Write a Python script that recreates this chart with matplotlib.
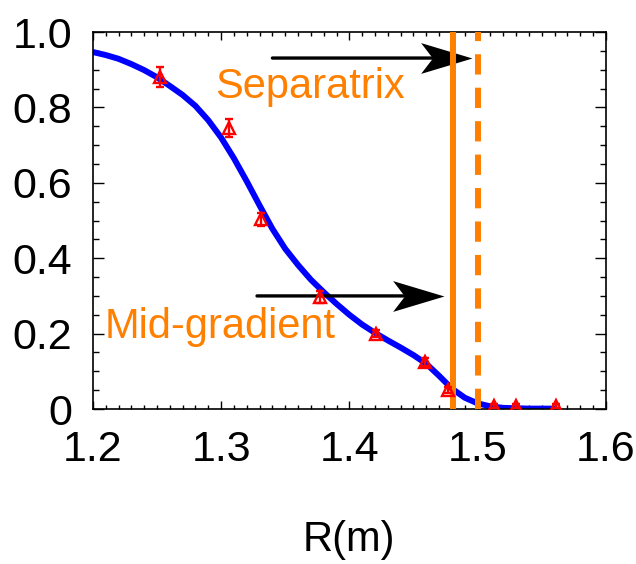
import matplotlib
matplotlib.use("Agg")
import matplotlib.pyplot as plt
from matplotlib.path import Path
from matplotlib.ticker import MultipleLocator

plt.rcParams['font.family'] = ['Liberation Sans', 'DejaVu Sans']

# fitted profile (blue curve)
curve_r = [1.20, 1.21, 1.22, 1.23, 1.24, 1.25, 1.26, 1.27, 1.28, 1.29,
           1.30, 1.31, 1.32, 1.33, 1.34, 1.35, 1.36, 1.37, 1.38, 1.39,
           1.40, 1.41, 1.42, 1.43, 1.44, 1.45, 1.46, 1.47, 1.48, 1.49,
           1.50, 1.51, 1.52, 1.53, 1.54, 1.55, 1.562]
curve_v = [0.947, 0.939, 0.929, 0.915, 0.899, 0.880, 0.857, 0.833, 0.804, 0.766,
           0.720, 0.665, 0.604, 0.540, 0.478, 0.425, 0.382, 0.343, 0.310, 0.279,
           0.250, 0.224, 0.202, 0.182, 0.163, 0.143, 0.120, 0.088, 0.054, 0.030,
           0.015, 0.007, 0.003, 0.002, 0.001, 0.001, 0.001]

# measured points (red triangles)
pts_r = [1.252, 1.306, 1.331, 1.377, 1.421, 1.459, 1.477, 1.513, 1.530, 1.561]
pts_v = [0.880, 0.745, 0.503, 0.297, 0.200, 0.125, 0.050, 0.008, 0.008, 0.008]
pts_err = [0.027, 0.024, 0.017, 0.015, 0.010, 0.010, 0.008, 0.005, 0.005, 0.005]

# vertical markers
separatrix_r = 1.500
midgrad_r = 1.481

# annotation arrows (start r, end r, level)
sep_arrow = (1.340, 1.496, 0.931)
mid_arrow = (1.328, 1.474, 0.300)

x_ticks = [1.2, 1.3, 1.4, 1.5, 1.6]
x_ticklabels = ["1.2", "1.3", "1.4", "1.5", "1.6"]
y_ticks = [0, 0.2, 0.4, 0.6, 0.8, 1.0]
y_ticklabels = ["0", "0.2", "0.4", "0.6", "0.8", "1.0"]

orange = "#FF8000"

# concave arrow-head shape (tip at origin, pointing right)
head = Path([(0, 0), (-1, 0.3), (-0.77, 0), (-1, -0.3), (0, 0)],
            [Path.MOVETO, Path.LINETO, Path.LINETO, Path.LINETO, Path.CLOSEPOLY])

fig = plt.figure(figsize=(6.36, 5.64), dpi=100)
ax = fig.add_axes([0.146, 0.2748, 0.8066, 0.6684])

ax.plot(curve_r, curve_v, color="#0000FF", lw=4.3, zorder=2,
        solid_joinstyle="round", solid_capstyle="butt")

for a in (sep_arrow, mid_arrow):
    ax.annotate("", xy=(a[1], a[2]), xytext=(a[0], a[2]),
                arrowprops=dict(arrowstyle="-", color="black", lw=2.4,
                                shrinkA=0, shrinkB=20),
                zorder=3)
    ax.plot([a[1]], [a[2]], marker=head, ms=74, mfc="black", mec="black",
            mew=0, ls="none", zorder=3)

ax.axvline(midgrad_r, color=orange, lw=4.3, zorder=4)
ax.axvline(separatrix_r, color=orange, lw=4.3, ls=(0, (3.4, 2.2)), zorder=4)

ax.errorbar(pts_r, pts_v, yerr=pts_err, fmt="^", ms=9, mfc="none", mec="red",
            mew=1.7, ecolor="red", elinewidth=1.7, capsize=3, capthick=1.7, zorder=5)

ax.text(1.295, 0.825, "Separatrix", color=orange, fontsize=30, ha="left", va="baseline")
ax.text(1.2094, 0.188, "Mid-gradient", color=orange, fontsize=30, ha="left", va="baseline")

ax.set_xlim(1.2, 1.6)
ax.set_ylim(0, 1.0)
ax.set_xticks(x_ticks, labels=x_ticklabels)
ax.set_yticks(y_ticks, labels=y_ticklabels)
ax.xaxis.set_minor_locator(MultipleLocator(0.01))
ax.yaxis.set_minor_locator(MultipleLocator(0.05))
ax.tick_params(which="both", direction="in", top=True, right=True, width=1.0, labelsize=31)
ax.tick_params(axis="x", which="major", length=6, pad=15)
ax.tick_params(axis="x", which="minor", length=3.2)
ax.tick_params(axis="y", which="major", length=8, pad=15)
ax.tick_params(axis="y", which="minor", length=4.5)
for s in ax.spines.values():
    s.set_linewidth(1.2)

ax.set_xlabel("R(m)", fontsize=30, labelpad=36)

fig.savefig("out.png", dpi=100)
